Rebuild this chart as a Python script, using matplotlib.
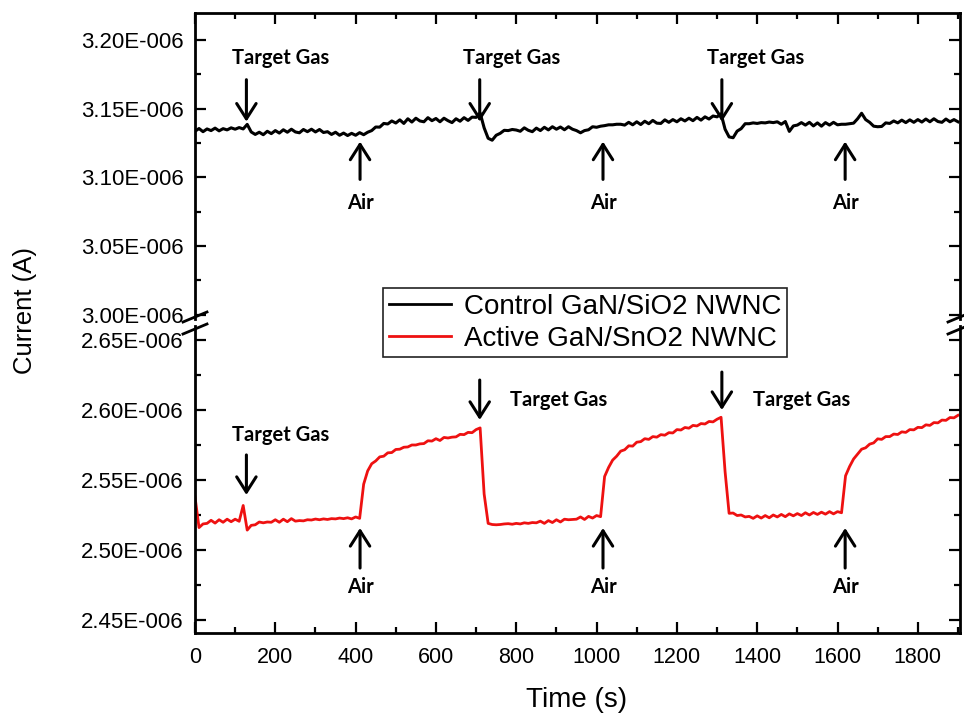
import numpy as np
import matplotlib
matplotlib.use("Agg")
import matplotlib.pyplot as plt
from matplotlib.lines import Line2D
from matplotlib.ticker import MultipleLocator, FuncFormatter

plt.rcParams['font.family'] = ['Liberation Sans', 'DejaVu Sans']

# ---- measured data (current in units of 1E-006 A, one sample every 10 s) ----
sample_interval_s = 10

control_uA = [
    3.1335, 3.1355, 3.1332, 3.1352, 3.1340, 3.1358, 3.1338, 3.1354, 3.1345, 3.1360,
    3.1350, 3.1362, 3.1352, 3.1385, 3.1330, 3.1312, 3.1328, 3.1310, 3.1335, 3.1318,
    3.1340, 3.1322, 3.1346, 3.1328, 3.1350, 3.1330, 3.1324, 3.1348, 3.1332, 3.1350,
    3.1330, 3.1348, 3.1326, 3.1332, 3.1312, 3.1328, 3.1306, 3.1322, 3.1304, 3.1320,
    3.1306, 3.1325, 3.1310, 3.1328, 3.1340, 3.1366, 3.1365, 3.1392, 3.1388, 3.1410,
    3.1395, 3.1418, 3.1392, 3.1426, 3.1402, 3.1430, 3.1410, 3.1404, 3.1434, 3.1412,
    3.1428, 3.1404, 3.1430, 3.1412, 3.1398, 3.1426, 3.1408, 3.1434, 3.1414, 3.1438,
    3.1436, 3.1468, 3.1360, 3.1284, 3.1270, 3.1306, 3.1320, 3.1342, 3.1340, 3.1348,
    3.1344, 3.1335, 3.1360, 3.1342, 3.1332, 3.1358, 3.1340, 3.1364, 3.1345, 3.1368,
    3.1350, 3.1366, 3.1346, 3.1368, 3.1350, 3.1340, 3.1324, 3.1340, 3.1346, 3.1368,
    3.1364, 3.1372, 3.1376, 3.1382, 3.1382, 3.1386, 3.1386, 3.1380, 3.1400, 3.1382,
    3.1404, 3.1384, 3.1408, 3.1390, 3.1414, 3.1394, 3.1392, 3.1418, 3.1400, 3.1420,
    3.1404, 3.1426, 3.1410, 3.1430, 3.1412, 3.1436, 3.1416, 3.1440, 3.1424, 3.1446,
    3.1440, 3.1462, 3.1350, 3.1294, 3.1288, 3.1336, 3.1354, 3.1390, 3.1390, 3.1396,
    3.1392, 3.1398, 3.1396, 3.1402, 3.1398, 3.1404, 3.1386, 3.1406, 3.1334, 3.1374,
    3.1380, 3.1398, 3.1380, 3.1400, 3.1374, 3.1396, 3.1372, 3.1398, 3.1380, 3.1400,
    3.1382, 3.1386, 3.1386, 3.1390, 3.1394, 3.1426, 3.1466, 3.1420, 3.1400, 3.1372,
    3.1368, 3.1370, 3.1396, 3.1392, 3.1410, 3.1396, 3.1416, 3.1398, 3.1418, 3.1400,
    3.1420, 3.1402, 3.1424, 3.1404, 3.1426, 3.1406, 3.1400, 3.1424, 3.1404, 3.1420,
    3.1404,
]

active_uA = [
    2.5380, 2.5160, 2.5186, 2.5190, 2.5212, 2.5192, 2.5216, 2.5198, 2.5220, 2.5202,
    2.5220, 2.5205, 2.5318, 2.5142, 2.5176, 2.5180, 2.5200, 2.5194, 2.5200, 2.5198,
    2.5216, 2.5198, 2.5220, 2.5202, 2.5224, 2.5206, 2.5210, 2.5208, 2.5216, 2.5214,
    2.5221, 2.5216, 2.5222, 2.5218, 2.5224, 2.5222, 2.5228, 2.5224, 2.5230, 2.5222,
    2.5236, 2.5226, 2.5470, 2.5565, 2.5616, 2.5636, 2.5665, 2.5670, 2.5694, 2.5696,
    2.5718, 2.5720, 2.5734, 2.5736, 2.5750, 2.5750, 2.5758, 2.5760, 2.5780, 2.5778,
    2.5795, 2.5782, 2.5804, 2.5800, 2.5806, 2.5808, 2.5826, 2.5824, 2.5840, 2.5838,
    2.5860, 2.5872, 2.5400, 2.5190, 2.5182, 2.5180, 2.5182, 2.5186, 2.5188, 2.5184,
    2.5190, 2.5186, 2.5194, 2.5190, 2.5196, 2.5194, 2.5206, 2.5190, 2.5210, 2.5196,
    2.5216, 2.5200, 2.5220, 2.5216, 2.5218, 2.5220, 2.5236, 2.5218, 2.5240, 2.5228,
    2.5246, 2.5238, 2.5525, 2.5590, 2.5642, 2.5670, 2.5706, 2.5716, 2.5744, 2.5742,
    2.5770, 2.5774, 2.5795, 2.5790, 2.5810, 2.5806, 2.5824, 2.5820, 2.5838, 2.5836,
    2.5860, 2.5857, 2.5875, 2.5870, 2.5890, 2.5886, 2.5903, 2.5900, 2.5918, 2.5915,
    2.5934, 2.5948, 2.5560, 2.5262, 2.5264, 2.5246, 2.5250, 2.5236, 2.5240, 2.5226,
    2.5244, 2.5228, 2.5246, 2.5230, 2.5250, 2.5236, 2.5254, 2.5238, 2.5258, 2.5244,
    2.5260, 2.5246, 2.5266, 2.5250, 2.5268, 2.5254, 2.5270, 2.5256, 2.5274, 2.5258,
    2.5274, 2.5266, 2.5530, 2.5596, 2.5650, 2.5685, 2.5720, 2.5730, 2.5756, 2.5765,
    2.5794, 2.5790, 2.5810, 2.5810, 2.5828, 2.5825, 2.5844, 2.5840, 2.5860, 2.5858,
    2.5876, 2.5874, 2.5894, 2.5890, 2.5910, 2.5908, 2.5928, 2.5926, 2.5946, 2.5944,
    2.5962,
]

series_labels = ["Control GaN/SiO2 NWNC", "Active GaN/SnO2 NWNC"]
series_colors = ["#000000", "#ee1111"]

# gas switching events (s)
target_gas_s = [128, 709, 1312]
air_s = [411, 1016, 1619]

time_s = np.arange(len(control_uA)) * sample_interval_s

# ---- figure layout (pixel based) ----
W, H = 964, 715
fig = plt.figure(figsize=(W / 100, H / 100), dpi=100)


def fx(px):
    return px / W


def fy(py):
    return 1 - py / H


left_px, right_px = 195, 960
top_px, brk_hi_px, brk_lo_px, bottom_px = 13, 319, 326, 633

ax_top = fig.add_axes([fx(left_px), fy(brk_hi_px), (right_px - left_px) / W,
                       (brk_hi_px - top_px) / H])
ax_bot = fig.add_axes([fx(left_px), fy(bottom_px), (right_px - left_px) / W,
                       (bottom_px - brk_lo_px) / H])

lines = []
ln, = ax_top.plot(time_s, control_uA, color=series_colors[0], lw=2.2)
lines.append(ln)
ln, = ax_bot.plot(time_s, active_uA, color=series_colors[1], lw=2.0)
lines.append(ln)

ax_top.set_ylim(2.997, 3.2195)
ax_bot.set_ylim(2.4407, 2.660)
for ax in (ax_top, ax_bot):
    ax.set_xlim(0, 1905)
    ax.xaxis.set_major_locator(MultipleLocator(200))
    ax.xaxis.set_minor_locator(MultipleLocator(100))
    ax.yaxis.set_major_locator(MultipleLocator(0.05))
    ax.yaxis.set_minor_locator(MultipleLocator(0.025))
    ax.yaxis.set_major_formatter(FuncFormatter(lambda v, p: f"{v:.2f}E-006"))
    for s in ax.spines.values():
        s.set_linewidth(2.0)
    ax.tick_params(which='major', length=8, width=1.6, direction='in', pad=8)
    ax.tick_params(which='minor', length=4.5, width=1.6, direction='in')
    ax.tick_params(axis='y', which='both', left=True, right=True, labelsize=16)
    ax.tick_params(axis='x', labelsize=15.5)

ax_top.spines['bottom'].set_visible(False)
ax_bot.spines['top'].set_visible(False)
ax_top.tick_params(axis='x', which='both', bottom=False, top=True,
                   labelbottom=False)
ax_bot.tick_params(axis='x', which='both', bottom=True, top=False, pad=10)

# axis break marks
for xc in (left_px, right_px):
    for yc in (317, 329):
        fig.add_artist(Line2D([fx(xc - 12), fx(xc + 12)], [fy(yc + 5), fy(yc - 5)],
                              color='black', lw=2.0, transform=fig.transFigure))

# axis titles
fig.text(fx(25), fy(310), "Current (A)", rotation=90, ha='center', va='center',
         fontsize=18.5)
fig.text(fx(577), fy(707), "Time (s)", ha='center', va='baseline', fontsize=20)

# event annotations
ann_font = dict(family=['Lato', 'DejaVu Sans'], fontweight='bold', fontsize=14.5,
                ha='center', va='center')
arrow = dict(arrowstyle="->,head_length=0.55,head_width=0.35", color='black',
             lw=2.2, shrinkA=0, shrinkB=0, mutation_scale=20)

# upper panel
gas_text_top = [212, 789, 1397]
for t, tx in zip(target_gas_s, gas_text_top):
    ax_top.annotate("", xy=(t, 3.1405), xytext=(t, 3.1710), arrowprops=arrow)
    ax_top.text(tx, 3.1868, "Target Gas", **ann_font)
for t in air_s:
    ax_top.annotate("", xy=(t, 3.1260), xytext=(t, 3.0985), arrowprops=arrow)
    ax_top.text(t, 3.0813, "Air", **ann_font)

# lower panel
gas_arrow_bot = [(2.5679, 2.5393), (2.6214, 2.5929), (2.6271, 2.6000)]
gas_text_bot = [(214, 2.5821), (906, 2.6071), (1511, 2.6071)]
for t, (y0, y1), (tx, ty) in zip(target_gas_s, gas_arrow_bot, gas_text_bot):
    ax_bot.annotate("", xy=(t, y1), xytext=(t, y0), arrowprops=arrow)
    ax_bot.text(tx, ty, "Target Gas", **ann_font)
for t in air_s:
    ax_bot.annotate("", xy=(t, 2.5157), xytext=(t, 2.4871), arrowprops=arrow)
    ax_bot.text(t, 2.4736, "Air", **ann_font)

leg = fig.legend(lines, series_labels, loc='upper left',
                 bbox_to_anchor=(fx(383), fy(288)), fontsize=20,
                 frameon=True, fancybox=False, framealpha=1,
                 edgecolor='#222222', borderpad=0.2, labelspacing=0.22,
                 handlelength=2.25, handletextpad=0.45, borderaxespad=0)
leg.get_frame().set_linewidth(1.2)
for h in leg.legend_handles:
    h.set_linewidth(2.0)

fig.savefig("out.png", dpi=100)
